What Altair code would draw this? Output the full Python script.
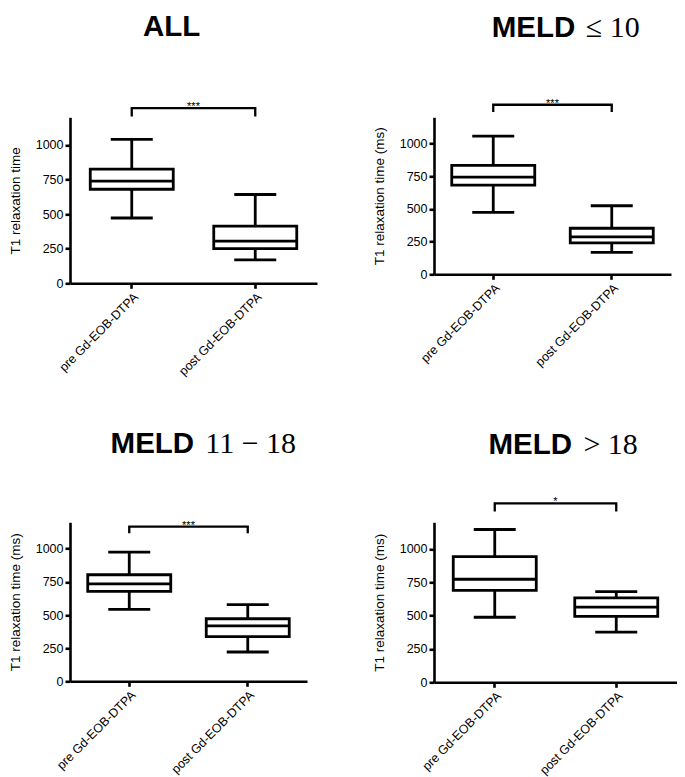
import altair as alt
import pandas as pd

groups = ["pre Gd-EOB-DTPA", "post Gd-EOB-DTPA"]
title_bold = ["ALL", "MELD", "MELD", "MELD"]
title_rest = ["", "≤ 10", "11 − 18", "> 18"]
y_titles = ["T1 relaxation time", "T1 relaxation time (ms)",
            "T1 relaxation time (ms)", "T1 relaxation time (ms)"]
stars = ["***", "***", "***", "*"]
y_ticks = [0, 250, 500, 750, 1000]

# box statistics per panel: [pre, post]
whisker_low = [[472, 170], [473, 167], [543, 221], [488, 377]]
q1 = [[680, 250], [681, 240], [678, 337], [690, 495]]
median = [[738, 305], [742, 286], [736, 419], [773, 564]]
q3 = [[826, 414], [833, 352], [804, 472], [943, 633]]
whisker_high = [[1041, 642], [1056, 524], [975, 579], [1146, 680]]
bracket_top = [1266, 1296, 1168, 1342]
bracket_end = [1205, 1241, 1117, 1281]

# layout (pixels)
widths = [247, 237, 237, 243]
heights = [166, 157, 159, 160]
title_bold_x = [73, 57.7, 40.6, 54.4]
title_rest_x = [0, 151.7, 135.3, 149.4]
title_y = [-81.5, -80, -69.7, -68.7]

FONT = "Liberation Sans"
SERIF = "Liberation Serif"
LW = 2.8
AW = 2.6


def panel(i):
    w, h = widths[i], heights[i]
    df = pd.DataFrame({
        "group": groups,
        "low": whisker_low[i],
        "q1": q1[i],
        "median": median[i],
        "q3": q3[i],
        "high": whisker_high[i],
    })
    xs = alt.Scale(type="band", domain=groups, paddingInner=0, paddingOuter=0)
    ys = alt.Scale(domain=[0, 1200], nice=False, zero=True)
    xaxis = alt.Axis(title=None, labelAngle=-45, labelFontSize=12.5, labelFont=FONT,
                     labelColor="black", domainColor="black", domainWidth=AW,
                     tickColor="black", tickWidth=AW, tickSize=5, labelPadding=2,
                     grid=False)
    yaxis = alt.Axis(title=y_titles[i], values=y_ticks, format="d",
                     labelFontSize=12.5, labelFont=FONT,
                     labelColor="black", domainColor="black", domainWidth=AW,
                     tickColor="black", tickWidth=AW, tickSize=5, labelPadding=2,
                     grid=False, titleFont=FONT, titleFontSize=13.5,
                     titleFontWeight="normal", titleColor="black", titlePadding=13)

    def X(field):
        return alt.X(f"{field}:N", scale=xs, axis=xaxis, sort=groups)

    def Y(field):
        return alt.Y(f"{field}:Q", scale=ys, axis=yaxis)

    base = alt.Chart(df)
    whisk = base.mark_rule(color="black", strokeWidth=LW).encode(
        x=X("group"), y=Y("low"), y2="high:Q")
    box = base.mark_bar(size=83, fill="white", stroke="black", strokeWidth=LW,
                        opacity=1).encode(x=X("group"), y=Y("q1"), y2="q3:Q")
    med = base.mark_tick(size=83, thickness=LW, color="black", opacity=1).encode(
        x=X("group"), y=Y("median"))
    cap_hi = base.mark_tick(size=42, thickness=LW, color="black", opacity=1).encode(
        x=X("group"), y=Y("high"))
    cap_lo = base.mark_tick(size=42, thickness=LW, color="black", opacity=1).encode(
        x=X("group"), y=Y("low"))

    br = pd.DataFrame({
        "g": [groups[0], groups[0], groups[1], groups[1]],
        "v": [bracket_end[i], bracket_top[i], bracket_top[i], bracket_end[i]],
        "o": [0, 1, 2, 3],
    })
    bracket = alt.Chart(br).mark_line(color="black", strokeWidth=2.3).encode(
        x=X("g"), y=Y("v"), order="o:Q")

    st = pd.DataFrame({"s": [stars[i]], "v": [bracket_top[i]]})
    star_txt = alt.Chart(st).mark_text(font=FONT, fontSize=11, color="black",
                                       baseline="alphabetic", dy=2).encode(
        x=alt.value(w / 2), y=Y("v"), text="s:N")

    t1 = alt.Chart(pd.DataFrame({"t": [title_bold[i]]})).mark_text(
        font=FONT, fontSize=29.5, fontWeight="bold", align="left",
        baseline="alphabetic", color="black").encode(
        x=alt.value(title_bold_x[i]), y=alt.value(title_y[i]), text="t:N")
    layers = [whisk, box, med, cap_hi, cap_lo, bracket, star_txt, t1]
    if title_rest[i]:
        t2 = alt.Chart(pd.DataFrame({"t": [title_rest[i]]})).mark_text(
            font=SERIF, fontSize=30, align="left", baseline="alphabetic",
            color="black").encode(
            x=alt.value(title_rest_x[i]), y=alt.value(title_y[i]), text="t:N")
        layers.append(t2)
    return alt.layer(*layers).properties(width=w, height=h)


top = alt.hconcat(panel(0), panel(1), spacing=55)
bottom = alt.hconcat(panel(2), panel(3), spacing=65)
chart = alt.vconcat(top, bottom, spacing=50).properties(
    padding={"top": 3.3, "left": 0, "right": 0, "bottom": 0}
).configure_view(stroke=None)

chart.save("out.html", embed_options={"renderer": "svg", "actions": False})
